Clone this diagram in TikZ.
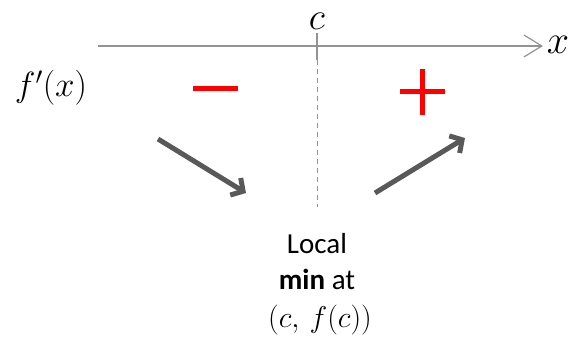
\RequirePackage{fix-cm}
\documentclass[tikz,border=0pt]{standalone}
\usepackage{fontspec}
\setmainfont{Carlito}
\usetikzlibrary{arrows.meta}
\tikzset{
  axisline/.style={draw=gray!85, line width=1.2pt},
  trendarrow/.style={draw=black!65, line width=5pt, -{Straight Barb[length=9pt,width=20pt,line width=5pt]}},
  signmark/.style={draw=red, line width=5pt},
  lbl/.style={inner sep=0pt, anchor=base}
}
\begin{document}
\begin{tikzpicture}[x=1pt,y=-1pt]
\useasboundingbox (0,0) rectangle (570,358);
\coordinate (axL) at (98,46);
\coordinate (axR) at (543,46);
\draw[axisline, -{Straight Barb[length=18pt,width=22pt,line width=1.2pt]}] (axL) -- (axR);
\node[lbl] (x) at (558,54) {\fontsize{40}{40}\selectfont $x$};
\node[lbl] (c) at (317,30) {\fontsize{38}{38}\selectfont $c$};
\coordinate (t1) at (317,33);
\coordinate (t2) at (317,60);
\coordinate (t3) at (317,207);
\draw[axisline] (t1) -- (t2);
\draw[axisline, line width=1pt, dash pattern=on 5pt off 4pt] (t2) -- (t3);
\node[lbl] (fp) at (51,97) {\fontsize{35}{35}\selectfont $f'(x)$};
\coordinate (m1) at (193,89);
\coordinate (m2) at (238,89);
\draw[signmark] (m1) -- (m2);
\coordinate (p1) at (400,92);
\coordinate (p2) at (445,92);
\coordinate (p3) at (422.5,69);
\coordinate (p4) at (422.5,115);
\draw[signmark] (p1) -- (p2) (p3) -- (p4);
\coordinate (a1s) at (158,139);
\coordinate (a1e) at (246,193);
\coordinate (a2s) at (375,193);
\coordinate (a2e) at (465,138);
\draw[trendarrow] (a1s) -- (a1e);
\draw[trendarrow] (a2s) -- (a2e);
\node[lbl] (l1) at (317,253) {\fontsize{29}{29}\selectfont Local};
\node[lbl] (l2) at (317,289) {\fontsize{29}{29}\selectfont \textbf{min} at};
\node[lbl] (l3) at (320,327) {\fontsize{30}{30}\selectfont $\bigl(c,\,f(c)\bigr)$};
\end{tikzpicture}
\end{document}
